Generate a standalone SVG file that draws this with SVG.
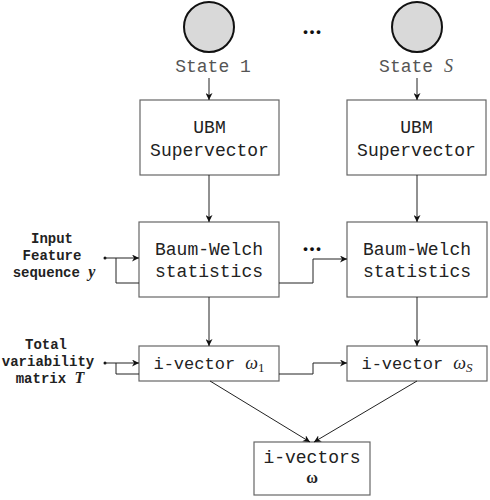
<svg xmlns="http://www.w3.org/2000/svg" width="490" height="500" viewBox="0 0 490 500">
<defs>
<marker id="ah" viewBox="0 0 10 10" refX="10" refY="5" markerWidth="7" markerHeight="7" markerUnits="userSpaceOnUse" orient="auto">
<path d="M0,0 L10,5 L0,10 L3,5 Z" fill="#111"/>
</marker>
<style>
.box{fill:#fff;stroke:#666;stroke-width:1.2}
.st{fill:#d9d9d9;stroke:#111;stroke-width:2}
.t{font-family:"Courier New","Liberation Mono",monospace;font-size:18px;fill:#222;text-anchor:middle}
.lab{font-family:"Courier New","Liberation Mono",monospace;font-size:14px;font-weight:bold;fill:#222;text-anchor:middle}
.m{font-family:"Liberation Serif",serif;font-style:italic}
.c{fill:none;stroke:#222;stroke-width:1}
.dots{font-family:"Liberation Sans",sans-serif;font-size:13px;font-weight:bold;fill:#111;text-anchor:middle;letter-spacing:2px}
</style>
</defs>
<rect width="490" height="500" fill="#fff"/>

<g id="state1">
<circle class="st" cx="209" cy="27" r="25"/>
<text class="t" x="213" y="72" style="fill:#555">State 1</text>
</g>
<g id="stateS">
<circle class="st" cx="417" cy="27" r="25"/>
<text class="t" x="416" y="72" style="fill:#555">State <tspan class="m">S</tspan></text>
</g>
<text class="dots" x="313" y="36">•••</text>

<g id="ubm1">
<rect class="box" x="140" y="100" width="139" height="75"/>
<text class="t" x="209.5" y="133">UBM</text>
<text class="t" x="209.5" y="156">Supervector</text>
</g>
<g id="ubmS">
<rect class="box" x="347" y="100" width="139" height="75"/>
<text class="t" x="416.5" y="133">UBM</text>
<text class="t" x="416.5" y="156">Supervector</text>
</g>

<g id="bw1">
<rect class="box" x="139" y="222" width="140" height="75"/>
<text class="t" x="209" y="255">Baum-Welch</text>
<text class="t" x="209" y="277">statistics</text>
</g>
<g id="bwS">
<rect class="box" x="347" y="222" width="140" height="75"/>
<text class="t" x="417" y="255">Baum-Welch</text>
<text class="t" x="417" y="277">statistics</text>
</g>
<text class="dots" x="313" y="253">•••</text>

<g id="iv1">
<rect class="box" x="139" y="346" width="140" height="35"/>
<text class="t" x="209" y="369" style="font-size:17px">i-vector <tspan class="m" style="font-size:18px">ω</tspan><tspan style="font-family:'Liberation Serif',serif;font-size:13px" dy="3">1</tspan></text>
</g>
<g id="ivS">
<rect class="box" x="347" y="346" width="140" height="35"/>
<text class="t" x="417" y="369" style="font-size:17px">i-vector <tspan class="m" style="font-size:18px">ω</tspan><tspan class="m" style="font-size:13px" dy="3">S</tspan></text>
</g>

<g id="ivs">
<rect class="box" x="254" y="442" width="116" height="53"/>
<text class="t" x="312" y="463">i-vectors</text>
<text class="t" x="312" y="483" style="font-family:'Liberation Serif',serif;font-weight:bold;font-size:16px">ω</text>
</g>

<g id="input">
<text class="lab" x="52" y="243">Input</text>
<text class="lab" x="52" y="260">Feature</text>
<text class="lab" x="54" y="277">sequence <tspan class="m" style="font-size:16px">y</tspan></text>
</g>
<g id="tvm">
<text class="lab" x="46" y="349">Total</text>
<text class="lab" x="48" y="366">variability</text>
<text class="lab" x="50" y="383">matrix <tspan class="m" style="font-size:16px">T</tspan></text>
</g>

<g id="connectors">
<line class="c" x1="209" y1="78" x2="209" y2="100" marker-end="url(#ah)"/>
<line class="c" x1="417" y1="78" x2="417" y2="100" marker-end="url(#ah)"/>
<line class="c" x1="209" y1="175" x2="209" y2="222" marker-end="url(#ah)"/>
<line class="c" x1="417" y1="175" x2="417" y2="222" marker-end="url(#ah)"/>
<line class="c" x1="209" y1="297" x2="209" y2="346" marker-end="url(#ah)"/>
<line class="c" x1="417" y1="297" x2="417" y2="346" marker-end="url(#ah)"/>
<circle cx="105" cy="258" r="1.5" fill="#111"/>
<line class="c" x1="105" y1="258" x2="139" y2="258" marker-end="url(#ah)"/>
<path class="c" d="M116,258 V283 H139"/>
<path class="c" d="M279,283 H313 V259 H347" marker-end="url(#ah)"/>
<circle cx="105" cy="363" r="1.5" fill="#111"/>
<line class="c" x1="105" y1="363" x2="139" y2="363" marker-end="url(#ah)"/>
<path class="c" d="M116,363 V374 H139"/>
<path class="c" d="M279,374 H313 V363 H347" marker-end="url(#ah)"/>
<line class="c" x1="210" y1="381" x2="310" y2="442" marker-end="url(#ah)"/>
<line class="c" x1="417" y1="381" x2="314" y2="442" marker-end="url(#ah)"/>
</g>
</svg>
